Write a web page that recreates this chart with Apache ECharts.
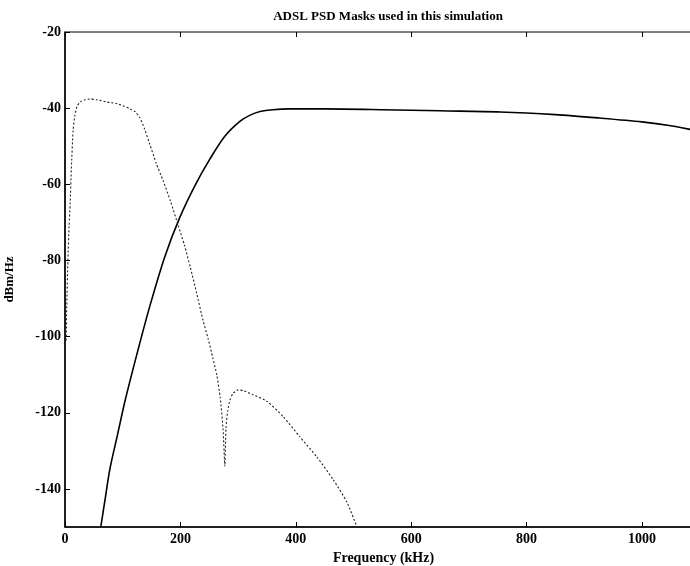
<!DOCTYPE html>
<html>
<head>
<meta charset="UTF-8">
<title>ADSL PSD Masks</title>
<script src="https://cdn.jsdelivr.net/npm/echarts@6/dist/echarts.min.js"></script>
<style>
  html, body { margin: 0; padding: 0; background: #fff; }
  #chart { width: 690px; height: 566px; }
</style>
</head>
<body>
<div id="chart"></div>
<script>
// downstream mask (solid), [kHz, dBm/Hz]
var downMask = [
  [62, -150], [69, -143.2], [78, -134.6], [91, -125.8], [104, -116.9], [125, -104.4],
  [147, -92], [173, -79], [199, -68.7], [225, -60.4], [251, -53.4], [277, -47.4],
  [303, -43.5], [320, -41.9], [338, -40.9], [360, -40.4], [390, -40.2], [450, -40.2],
  [550, -40.4], [650, -40.7], [754, -41], [850, -41.7], [927, -42.6], [1000, -43.6],
  [1050, -44.6], [1081, -45.5], [1104, -46.3]
];
// upstream mask (dotted)
var upMask = [
  [2, -101], [3, -92], [5, -80], [7, -71], [9, -65], [11, -56], [14, -46], [17, -42],
  [21, -39.5], [27, -38.3], [35, -37.8], [43, -37.6], [55, -37.8], [73, -38.4],
  [90, -38.8], [101, -39.4], [113, -40.2], [122, -41], [130, -42.6], [138, -45.5],
  [147, -49.5], [158, -54.5], [170, -59], [183, -64.5], [196, -70.7], [207, -76],
  [217, -81.7], [228, -88.5], [239, -95.6], [248, -100.5], [256, -105.5], [263, -110],
  [269, -116], [274, -124.5], [277, -134], [279, -124], [282, -119.5], [286, -116.6],
  [291, -115], [300, -114], [309, -114.2], [325, -115.2], [350, -117], [378, -121],
  [407, -126.3], [436, -131.5], [465, -137.6], [489, -143.6], [506, -150]
];
var xTicks = [0, 200, 400, 600, 800, 1000];
var yTicks = [-140, -120, -100, -80, -60, -40, -20];

var font = 'Liberation Serif';
var chart = echarts.init(document.getElementById('chart'));
var option = {
  animation: false,
  title: {
    text: 'ADSL PSD Masks used in this simulation',
    left: 383, top: 5, textAlign: 'center',
    textStyle: { fontFamily: font, fontSize: 13, fontWeight: 'bold', color: '#000' }
  },
  grid: {
    left: 65, right: -12, top: 32, bottom: 39,
    containLabel: false, outerBoundsMode: 'none',
    show: true, borderColor: '#000', borderWidth: 1
  },
  xAxis: [{
    type: 'value', min: 0, max: 1104,
    name: 'Frequency (kHz)', nameLocation: 'middle', nameGap: 23,
    nameTextStyle: { fontFamily: font, fontSize: 14, fontWeight: 'bold', color: '#000' },
    axisLine: { onZero: false, lineStyle: { color: '#000', width: 1.5 } },
    axisTick: { inside: true, length: 5, customValues: xTicks, lineStyle: { color: '#000' } },
    axisLabel: {
      customValues: xTicks, fontFamily: font, fontSize: 14, fontWeight: 'bold', color: '#000', margin: 5,
      formatter: function (v) { return String(v); }
    },
    splitLine: { show: false }
  }, {
    type: 'value', min: 0, max: 1104, position: 'top',
    axisLine: { show: false },
    axisTick: { inside: true, length: 5, customValues: xTicks, lineStyle: { color: '#000' } },
    axisLabel: { show: false },
    splitLine: { show: false }
  }],
  yAxis: {
    type: 'value', min: -150, max: -20,
    name: 'dBm/Hz', nameLocation: 'middle', nameGap: 49,
    nameTextStyle: { fontFamily: font, fontSize: 13, fontWeight: 'bold', color: '#000' },
    axisLine: { show: true, lineStyle: { color: '#000', width: 1.5 } },
    axisTick: { show: true, inside: true, length: 5, customValues: yTicks, lineStyle: { color: '#000' } },
    axisLabel: { customValues: yTicks, fontFamily: font, fontSize: 14, fontWeight: 'bold', color: '#000', margin: 4 },
    splitLine: { show: false }
  },
  series: [{
    type: 'line', data: downMask, showSymbol: false, smooth: 0.3,
    lineStyle: { color: '#000', width: 1.6 }
  }, {
    type: 'line', data: upMask, showSymbol: false, smooth: 0.2,
    lineStyle: { color: '#222', width: 1.1, type: [2, 2] }
  }]
};
chart.setOption(option);
</script>
</body>
</html>
